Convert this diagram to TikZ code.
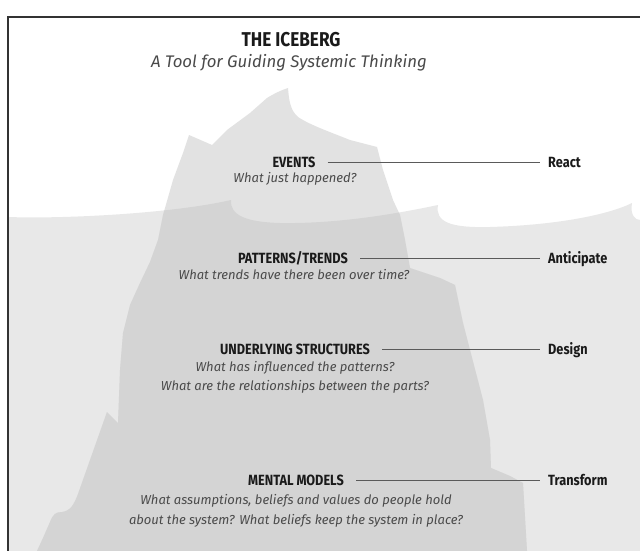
\documentclass[tikz,border=0pt]{standalone}
\usepackage{fontspec}
\setmainfont{Fira Sans}
\newfontfamily\headfont[FakeStretch=0.86]{Fira Sans}
\definecolor{ink}{HTML}{1A1A1A}
\definecolor{qgray}{HTML}{4A4A4A}
\definecolor{linegray}{HTML}{5A5A5A}
\definecolor{water}{HTML}{E8E8E8}
\definecolor{iceabove}{HTML}{E2E2E2}
\definecolor{icebelow}{HTML}{D4D4D4}

% sea surface with its breaking crests, closed down to the bottom edge
\def\waterpath{(8,217) .. controls (60,219) and (170,214) .. (231,200)
  .. controls (230,215) and (245,222) .. (280,223)
  .. controls (340,224) and (400,213) .. (438,205)
  .. controls (435,222) and (450,228) .. (490,227)
  .. controls (560,225) and (610,214) .. (632,203)
  .. controls (630,215) and (635,220) .. (640,220)
  -- (640,551) -- (8,551) -- cycle}

% outline of the iceberg, tip above the surface and bulk below
\def\icebergpath{(37,551) -- (43,538) -- (50,522)
  .. controls (53,514) and (56,512) .. (62,512)
  .. controls (70,511) and (74,505) .. (78,494)
  -- (107,412) -- (118,423) -- (120,370) -- (123,333) -- (130,305)
  -- (140,283) -- (150,262) -- (158,240) -- (163,215) -- (173,180)
  -- (183,153) -- (189,135) -- (212,145) -- (227,130) -- (250,113)
  -- (267,98) .. controls (275,93) and (282,90) .. (288,88)
  .. controls (289,100) and (290,110) .. (298,117)
  .. controls (310,125) and (330,132) .. (350,140)
  -- (377,147) -- (383,170) -- (393,200) -- (400,215) -- (405,240)
  -- (410,268) -- (440,278) -- (455,285) -- (463,323) -- (470,350)
  -- (483,400) -- (490,440) -- (491,468) -- (510,476) -- (523,483)
  -- (527,551) -- cycle}

\tikzset{
  titlestyle/.style={font=\headfont\bfseries\fontsize{20}{23}\selectfont,
    text=ink, inner sep=0pt, anchor=base},
  subtitlestyle/.style={font=\itshape\fontsize{16.8}{19}\selectfont,
    text=qgray, inner sep=0pt, anchor=base},
  level/.style={font=\headfont\bfseries\fontsize{14.8}{17}\selectfont,
    text=ink, inner sep=0pt, text height=10pt, text depth=0pt, anchor=base},
  response/.style={level, anchor=base west},
  quest/.style={font=\itshape\fontsize{13}{15}\selectfont,
    text=qgray, inner sep=0pt, anchor=base},
  link/.style={draw=linegray, line width=1pt, shorten <=12pt, shorten >=8pt},
  frameline/.style={draw=black!80, line width=1.2pt}
}

\begin{document}
\begin{tikzpicture}[x=1pt,y=-1pt]
\useasboundingbox (0,0) rectangle (640,551);
\fill[white] (0,0) rectangle (640,551);

% sea, iceberg tip, and the submerged part of the iceberg
\fill[water] \waterpath;
\fill[iceabove] \icebergpath;
\begin{scope}
  \clip \waterpath;
  \fill[icebelow] \icebergpath;
\end{scope}

% frame along the top and left edges
\draw[frameline] (8,551) -- (8,17) -- (640,17);

% heading
\node[titlestyle] (title) at (291,47) {THE ICEBERG};
\node[subtitlestyle] (subtitle) at (289,67) {A Tool for Guiding Systemic Thinking};

% levels of the iceberg
\node[level] (events) at (294,167) {EVENTS};
\node[quest] (q1) at (295,182) {What just happened?};
\node[response] (react) at (548,167) {React};

\node[level] (patterns) at (293,263) {PATTERNS/TRENDS};
\node[quest] (q2) at (294,279) {What trends have there been over time?};
\node[response] (anticipate) at (548,263) {Anticipate};

\node[level] (structures) at (295,354) {UNDERLYING STRUCTURES};
\node[quest] (q3a) at (295,371) {What has influenced the patterns?};
\node[quest] (q3b) at (295,390) {What are the relationships between the parts?};
\node[response] (design) at (548,354) {Design};

\node[level] (models) at (296,485) {MENTAL MODELS};
\node[quest] (q4a) at (296,504) {What assumptions, beliefs and values do people hold};
\node[quest] (q4b) at (296,524) {about the system? What beliefs keep the system in place?};
\node[response] (transform) at (548,485) {Transform};

% connectors from each level to its response
\draw[link] (events.east) -- (react.west);
\draw[link] (patterns.east) -- (anticipate.west);
\draw[link] (structures.east) -- (design.west);
\draw[link] (models.east) -- (transform.west);
\end{tikzpicture}
\end{document}
